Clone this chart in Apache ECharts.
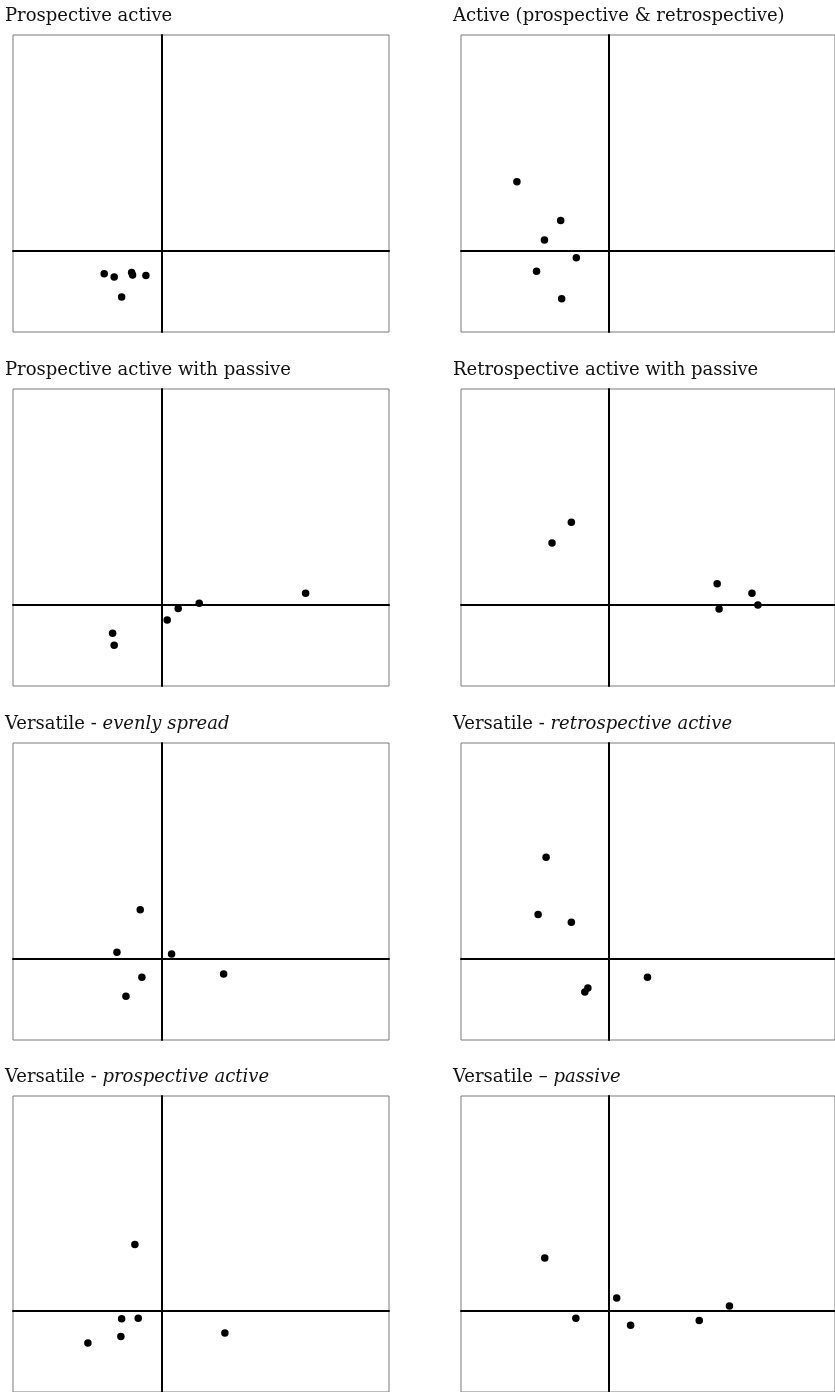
<!DOCTYPE html>
<html>
<head>
<meta charset="utf-8">
<script src="https://cdn.jsdelivr.net/npm/echarts@6/dist/echarts.min.js"></script>
<style>
  html, body { margin: 0; padding: 0; background: #fff; }
  #chart { width: 835px; height: 1392px; }
</style>
</head>
<body>
<div id="chart"></div>
<script>
// Panel headings: plain lead-in text and an optional italic qualifier
const panelLead = [
  'Prospective active',
  'Active (prospective & retrospective)',
  'Prospective active with passive',
  'Retrospective active with passive',
  'Versatile - ',
  'Versatile - ',
  'Versatile - ',
  'Versatile \u2013 '
];
const panelItalic = ['', '', '', '', 'evenly spread', 'retrospective active', 'prospective active', 'passive'];

// Score pairs [dimension 1, dimension 2] for each profile
const prospectiveActive = [
  [-0.775, -0.283], [-0.641, -0.323], [-0.407, -0.270], [-0.394, -0.299], [-0.215, -0.307], [-0.541, -0.569]
];
const activeBoth = [
  [-1.245, 0.848], [-0.654, 0.369], [-0.873, 0.131], [-0.443, -0.086], [-0.980, -0.253], [-0.641, -0.590]
];
const prospectiveWithPassive = [
  [1.930, 0.140], [0.501, 0.017], [0.219, -0.049], [0.071, -0.188], [-0.662, -0.352], [-0.641, -0.499]
];
const retrospectiveWithPassive = [
  [-0.510, 1.013], [-0.771, 0.758], [1.459, 0.258], [1.929, 0.140], [1.485, -0.053], [2.009, -0.004]
];
const versatileEven = [
  [-0.291, 0.602], [-0.604, 0.077], [0.130, 0.057], [0.829, -0.189], [-0.269, -0.230], [-0.483, -0.463]
];
const versatileRetro = [
  [-0.851, 1.245], [-0.959, 0.541], [-0.510, 0.446], [0.518, -0.230], [-0.287, -0.361], [-0.328, -0.410]
];
const versatileProspective = [
  [-0.363, 0.820], [-0.541, -0.098], [-0.318, -0.090], [-0.551, -0.315], [-0.994, -0.397], [0.846, -0.274]
];
const versatilePassive = [
  [-0.869, 0.651], [0.102, 0.160], [1.625, 0.061], [-0.449, -0.090], [0.290, -0.176], [1.217, -0.118]
];

const panelData = [
  prospectiveActive, activeBoth,
  prospectiveWithPassive, retrospectiveWithPassive,
  versatileEven, versatileRetro,
  versatileProspective, versatilePassive
];

// Shared axis extents
const xRange = [-2, 3.05];
const yRange = [-1, 2.65];

// Layout
const colLeft = [13, 461];
const rowTop = [35, 389, 743, 1096];
const boxW = 376, boxH = 297;
const titleDx = -8, titleDy = -28;

const textBase = { fontFamily: 'DejaVu Serif', fontSize: 18, fontWeight: 'normal', color: '#111', lineHeight: 18 };

const grids = [], xAxes = [], yAxes = [], titles = [], series = [];
panelData.forEach((pts, i) => {
  const c = i % 2, r = Math.floor(i / 2);
  grids.push({
    left: colLeft[c], top: rowTop[r], width: boxW, height: boxH,
    show: true, borderColor: '#7a7a7a', borderWidth: 1, backgroundColor: 'transparent'
  });
  const axisCommon = {
    type: 'value', gridIndex: i,
    axisLine: { show: true, onZero: true, lineStyle: { color: '#000', width: 2 } },
    axisTick: { show: false }, axisLabel: { show: false }, splitLine: { show: false }
  };
  xAxes.push(Object.assign({}, axisCommon, { min: xRange[0], max: xRange[1] }));
  yAxes.push(Object.assign({}, axisCommon, { min: yRange[0], max: yRange[1] }));
  const text = panelItalic[i]
    ? '{n|' + panelLead[i] + '}{it|' + panelItalic[i] + '}'
    : '{n|' + panelLead[i] + '}';
  titles.push({
    text: text,
    left: colLeft[c] + titleDx,
    top: rowTop[r] + titleDy,
    padding: 0,
    textStyle: Object.assign({}, textBase, {
      rich: {
        n: Object.assign({}, textBase),
        it: Object.assign({}, textBase, { fontStyle: 'italic' })
      }
    })
  });
  series.push({
    type: 'scatter', xAxisIndex: i, yAxisIndex: i,
    data: pts, symbol: 'circle', symbolSize: 7.5,
    itemStyle: { color: '#000', opacity: 1 }, silent: true
  });
});

const chart = echarts.init(document.getElementById('chart'), null, { renderer: 'canvas' });
chart.setOption({
  animation: false,
  backgroundColor: '#fff',
  title: titles,
  grid: grids,
  xAxis: xAxes,
  yAxis: yAxes,
  series: series
});
</script>
</body>
</html>
